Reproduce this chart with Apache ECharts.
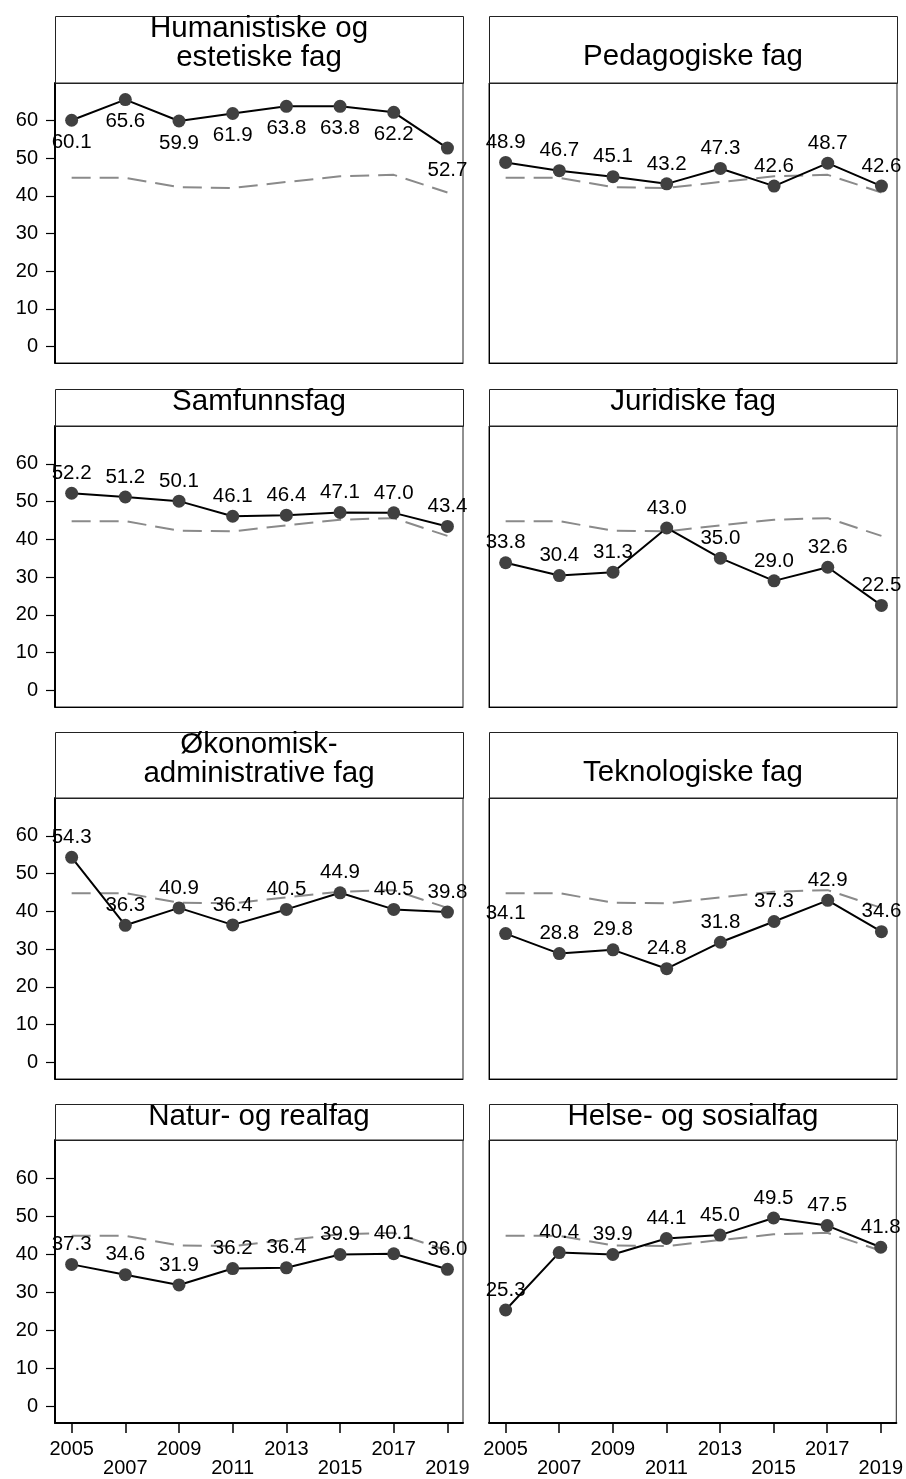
<!DOCTYPE html>
<html>
<head>
<meta charset="utf-8">
<script src="https://cdn.jsdelivr.net/npm/echarts@6/dist/echarts.min.js"></script>
<style>
html,body{margin:0;padding:0;background:#fff;}
#chart{width:906px;height:1479px;}
</style>
</head>
<body>
<div id="chart"></div>
<script>
const years = [2005, 2007, 2009, 2011, 2013, 2015, 2017, 2019];
const yTicks = [0, 10, 20, 30, 40, 50, 60];
const titles = [
  "Humanistiske og\nestetiske fag",
  "Pedagogiske fag",
  "Samfunnsfag",
  "Juridiske fag",
  "Økonomisk-\nadministrative fag",
  "Teknologiske fag",
  "Natur- og realfag",
  "Helse- og sosialfag"
];
const humanistiske = [60.1, 65.6, 59.9, 61.9, 63.8, 63.8, 62.2, 52.7];
const pedagogiske  = [48.9, 46.7, 45.1, 43.2, 47.3, 42.6, 48.7, 42.6];
const samfunnsfag  = [52.2, 51.2, 50.1, 46.1, 46.4, 47.1, 47.0, 43.4];
const juridiske    = [33.8, 30.4, 31.3, 43.0, 35.0, 29.0, 32.6, 22.5];
const okonomisk    = [54.3, 36.3, 40.9, 36.4, 40.5, 44.9, 40.5, 39.8];
const teknologiske = [34.1, 28.8, 29.8, 24.8, 31.8, 37.3, 42.9, 34.6];
const natur        = [37.3, 34.6, 31.9, 36.2, 36.4, 39.9, 40.1, 36.0];
const helse        = [25.3, 40.4, 39.9, 44.1, 45.0, 49.5, 47.5, 41.8];
const total        = [44.8, 44.8, 42.3, 42.1, 43.7, 45.2, 45.6, 40.9];

const panels = [humanistiske, pedagogiske, samfunnsfag, juridiske, okonomisk, teknologiske, natur, helse];

// layout
const cols = [[55, 463], [489, 897]];
const rows = [
  {titleTop: 16, plotTop: 83, plotBottom: 363},
  {titleTop: 389, plotTop: 426, plotBottom: 707},
  {titleTop: 732, plotTop: 798, plotBottom: 1079},
  {titleTop: 1104, plotTop: 1140, plotBottom: 1423}
];
const FONT = "'Liberation Sans', Arial, sans-serif";

const grid = [], xAxis = [], yAxis = [], series = [], graphic = [];
panels.forEach((vals, i) => {
  const c = i % 2, r = Math.floor(i / 2);
  const [x0, x1] = cols[c];
  const R = rows[r];
  grid.push({left: x0, width: x1 - x0, top: R.plotTop, height: R.plotBottom - R.plotTop,
    show: true, borderColor: '#222', borderWidth: 1, backgroundColor: 'transparent'});
  const bottom = r === 3;
  xAxis.push({
    type: 'value', gridIndex: i, min: 2004.38, max: 2019.58,
    axisLine: {show: true, onZero: false, lineStyle: {color: '#000', width: bottom ? 2 : 1}},
    axisTick: {show: bottom, customValues: years, length: 10, lineStyle: {color: '#000', width: 1.5}},
    axisLabel: {show: bottom, customValues: years, margin: 17, fontSize: 20, fontFamily: FONT, color: '#000',
      lineHeight: 19,
      formatter: v => (Math.round((v - 2005) / 2) % 2 === 1 ? '\n' + v : String(v))},
    splitLine: {show: false}
  });
  yAxis.push({
    type: 'value', gridIndex: i, min: -4.4, max: 70,
    axisLine: {show: true, onZero: false, lineStyle: {color: '#000', width: c === 0 ? 2 : 1}},
    axisTick: {show: c === 0, customValues: yTicks, length: 9, lineStyle: {color: '#000', width: 1.2}},
    axisLabel: {show: c === 0, customValues: yTicks, margin: 17, fontSize: 20, fontFamily: FONT, color: '#000'},
    splitLine: {show: false}
  });
  series.push({
    type: 'line', xAxisIndex: i, yAxisIndex: i, z: 1,
    data: years.map((y, j) => [y, total[j]]),
    symbol: 'none', silent: true,
    lineStyle: {color: '#8a8a8a', width: 2, type: [19, 9]}
  });
  series.push({
    type: 'line', xAxisIndex: i, yAxisIndex: i, z: 3,
    data: years.map((y, j) => [y, vals[j]]),
    symbol: 'circle', symbolSize: 13,
    itemStyle: {color: '#404040'},
    lineStyle: {color: '#000', width: 2},
    label: {show: true, position: r === 0 && c === 0 ? 'bottom' : 'top', distance: r === 0 && c === 0 ? 5 : 3,
      fontSize: 20.5, fontFamily: FONT, color: '#000',
      formatter: p => p.value[1].toFixed(1)},
    labelLayout: {hideOverlap: false}
  });
  // title box
  graphic.push({type: 'rect', shape: {x: x0 + 0.5, y: R.titleTop + 0.5, width: x1 - x0, height: R.plotTop - R.titleTop},
    style: {fill: 'none', stroke: '#222', lineWidth: 1}, z: 10});
  const lines = titles[i].split('\n');
  const twoRow = (R.plotTop - R.titleTop) > 50;
  let cy;
  if (lines.length === 2) cy = R.titleTop + 27;
  else cy = twoRow ? R.titleTop + 41 : R.titleTop + 13;
  graphic.push({type: 'text', x: (x0 + x1) / 2, y: cy, z: 10,
    style: {text: titles[i], fill: '#000', font: '29.5px ' + FONT, textAlign: 'center', textVerticalAlign: 'middle', lineHeight: 29}});
});

const chart = echarts.init(document.getElementById('chart'), null, {renderer: 'canvas'});
chart.setOption({animation: false, backgroundColor: '#fff', grid, xAxis, yAxis, series, graphic});
</script>
</body>
</html>
